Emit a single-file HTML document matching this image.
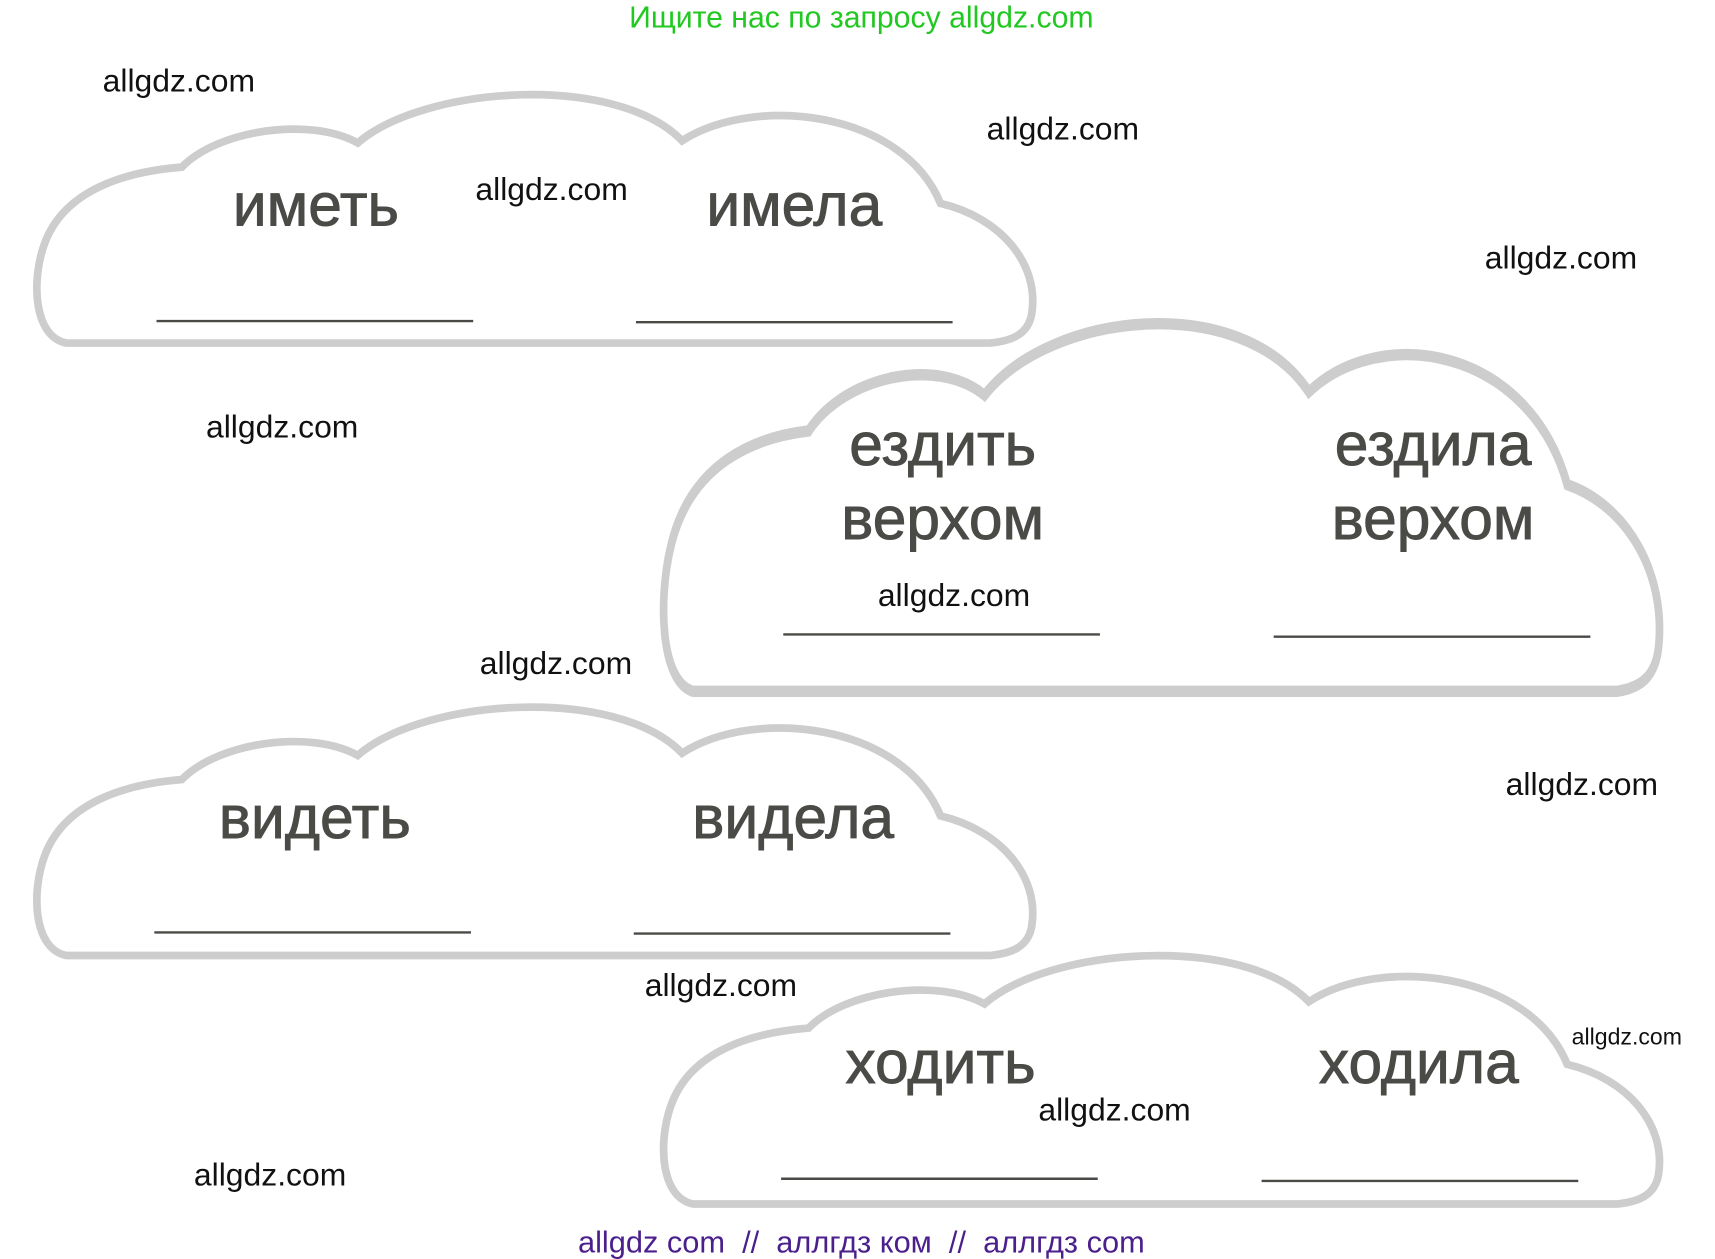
<!DOCTYPE html>
<html><head><meta charset="utf-8"><style>
html,body{margin:0;padding:0;background:#fff;}
svg{display:block;}
.w{font-family:"Liberation Sans","DejaVu Sans",sans-serif;font-size:55px;fill:#4a4a47;stroke:#4a4a47;stroke-width:0.8;text-anchor:middle;}
.m{font-family:"Liberation Sans","DejaVu Sans",sans-serif;font-size:29px;fill:#111;}
.c{fill:none;stroke:#cdcdcd;stroke-width:7;vector-effect:non-scaling-stroke;}
.l{stroke:#4a4a47;stroke-width:2.2;}
</style></head><body>
<svg width="1715" height="1259" viewBox="0 0 1559 1145" xmlns="http://www.w3.org/2000/svg">
<defs>
<path id="cl" d="M60,312 C30,306 28,255 40,222 C58,172 115,156 165,152 C198,118 282,106 325,130 C385,78 560,66 620,128 C685,86 820,100 855,185 C910,198 945,240 938,285 C935,304 920,310 900,312 Z"/>
</defs>
<use href="#cl" class="c"/>
<use href="#cl" class="c" transform="translate(0,557)"/>
<use href="#cl" class="c" transform="translate(570,783)"/>
<g transform="translate(570,278) scale(1,1.48) translate(0,-75)"><use href="#cl" class="c"/></g>

<text class="w" x="287" y="205">иметь</text>
<text class="w" x="722" y="205">имела</text>
<line class="l" x1="142" y1="292" x2="430" y2="292"/>
<line class="l" x1="578" y1="293" x2="866" y2="293"/>

<text class="w" x="857" y="423">ездить</text>
<text class="w" x="857" y="490">верхом</text>
<text class="w" x="1303" y="423">ездила</text>
<text class="w" x="1303" y="490">верхом</text>
<line class="l" x1="712" y1="577" x2="1000" y2="577"/>
<line class="l" x1="1158" y1="579" x2="1446" y2="579"/>

<text class="w" x="286" y="762">видеть</text>
<text class="w" x="721" y="762">видела</text>
<line class="l" x1="140" y1="848" x2="428" y2="848"/>
<line class="l" x1="576" y1="849" x2="864" y2="849"/>

<text class="w" x="855" y="985">ходить</text>
<text class="w" x="1290" y="985">ходила</text>
<line class="l" x1="710" y1="1072" x2="998" y2="1072"/>
<line class="l" x1="1147" y1="1074" x2="1435" y2="1074"/>

<text class="m" x="93" y="83">allgdz.com</text>
<text class="m" x="897" y="127">allgdz.com</text>
<text class="m" x="432" y="182">allgdz.com</text>
<text class="m" x="1350" y="244">allgdz.com</text>
<text class="m" x="187" y="398">allgdz.com</text>
<text class="m" x="798" y="551">allgdz.com</text>
<text class="m" x="436" y="613">allgdz.com</text>
<text class="m" x="1369" y="723">allgdz.com</text>
<text class="m" x="586" y="906">allgdz.com</text>
<text class="m" x="1429" y="950" style="font-size:21px">allgdz.com</text>
<text class="m" x="944" y="1019">allgdz.com</text>
<text class="m" x="176" y="1078">allgdz.com</text>

<text x="783" y="25" text-anchor="middle" style="font-family:'Liberation Sans',sans-serif;font-size:27.5px;fill:#22c822">Ищите нас по запросу allgdz.com</text>
<text x="783" y="1139" text-anchor="middle" style="font-family:'Liberation Sans',sans-serif;font-size:28px;fill:#4b1f8c" xml:space="preserve">allgdz com  //  аллгдз ком  //  аллгдз com</text>
</svg>
</body></html>
